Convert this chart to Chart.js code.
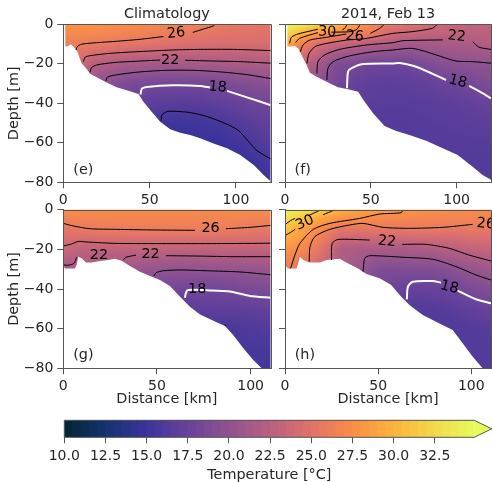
<!DOCTYPE html>
<html><head><meta charset="utf-8">
<style>html,body{margin:0;padding:0;background:#fff;width:492px;height:482px;overflow:hidden}
canvas{position:absolute;left:0;top:0}</style>
<script src="https://cdn.jsdelivr.net/npm/chart.js@4"></script>
</head><body>
<script>
// Grid of the temperature sections
const distanceGrid = [0,10,20,30,40,50,60,70,80,90,100,110,120];
const depthGrid = [0,-5,-10,-20,-30,-40,-50,-60,-70,-80];

const tempE = [
 [28,28,27.8,27.5,27.3,27,26.8,26.6,26.3,25.9,25.5,25.4,25.3],
 [27.1,27.1,27,26.8,26.6,26.3,26,25.7,25.5,25.2,25,25,24.9],
 [26.2,26.1,25.8,25.5,25.3,25.1,24.9,24.6,24.4,24.4,24.4,24.4,24.4],
 [24,23.6,22.2,21.8,21.5,21.4,21.3,21.4,21.5,21.6,21.7,21.8,21.9],
 [21,20.5,20,19.3,18.6,18.4,18.3,18.3,18.3,18.5,19,19.3,19.6],
 [19,18.5,18,17.8,17.4,16.9,16.7,16.6,16.8,17.1,17.4,17.9,18.1],
 [18,17.5,17,16.8,16.3,15.8,15.3,15.2,15.4,15.7,16.3,16.8,17.3],
 [17,16.5,16,15.6,15.2,15,14.8,14.7,14.8,14.9,15.3,15.9,16.6],
 [16,15.5,15,14.8,14.7,14.6,14.5,14.5,14.6,14.6,14.7,15,15.8],
 [15.5,15,14.8,14.6,14.5,14.5,14.5,14.5,14.5,14.5,14.6,14.8,15.3]];
const tempF = [
 [35,33.5,31.8,30.6,28.9,27.2,25.7,25,24.5,23.9,23.4,23.1,23],
 [32.5,29.7,27.8,26.7,26,25.8,24,23.5,23,22.9,22.8,22.7,22.6],
 [30,26.3,24.4,23.5,22.9,22.3,21.8,21.2,21.3,21.5,21.6,21.8,22.3],
 [25,23,21.3,19,18.6,18,17.9,18,18.6,19.4,19.75,19.9,20],
 [22,21,19.5,18.3,17.3,17,16.9,17,17.2,17.6,18,18.5,19],
 [20,19,18,17.5,17,16.7,16.6,16.6,16.7,16.8,17,17.3,17.7],
 [18,17.5,17.2,17,16.7,16.5,16.4,16.4,16.5,16.6,16.7,16.8,16.9],
 [17,17,17,16.8,16.5,16.4,16.3,16.3,16.4,16.4,16.5,16.5,16.5],
 [16.6,16.6,16.6,16.5,16.4,16.3,16.3,16.3,16.3,16.3,16.3,16.3,16.3],
 [16.5,16.5,16.5,16.4,16.3,16.3,16.3,16.3,16.3,16.3,16.3,16.3,16.3]];
const tempG = [
 [27.5,27.5,27.4,27.3,27.3,27.3,27.3,27.3,27.3,27.3,27.3,27.3,27.3],
 [26.4,26.7,26.7,26.7,26.7,26.7,26.7,26.7,26.7,26.7,26.6,26.5,26.5],
 [25.5,25.7,25.9,25.95,26,26,26,26,26,25.9,25.7,25.6,25.6],
 [23.6,22.9,22.9,23,23,23,23,23,23,23,23.1,23.1,23.1],
 [21.5,21.5,21.3,21,20.7,20.3,20.1,20.1,20.2,20.3,20.4,20.6,20.6],
 [20,19.5,19.3,19,18.6,18.2,18.2,18.1,18.2,18.3,18.7,18.9,18.9],
 [18.5,18,17.8,17.6,17.3,17,17,16.9,17,17,17.1,17.3,17.3],
 [17,16.8,16.6,16.4,16.2,16,15.9,15.8,15.8,15.8,16.1,16.4,16.4],
 [16,16,15.9,15.8,15.8,15.8,15.8,15.8,15.8,15.8,15.8,15.8,15.8],
 [15.5,15.5,15.5,15.5,15.5,15.5,15.5,15.5,15.5,15.5,15.5,15.5,15.5]];
const tempH = [
 [35,33.3,31.6,29.7,29,28.5,28.2,27.9,27.7,27.5,27.4,27.3,27.3],
 [32.9,30.5,28.8,27.6,27.5,27,26.9,26.8,26.7,26.7,26.7,26.7,26.7],
 [31,28.8,27,25.3,25.2,25.5,25.5,25.7,25.8,25.5,25.6,25.6,25.6],
 [28,27,25,22,21.7,21.6,21.6,21.7,22,22.5,23,23.3,23.3],
 [26,25,23.5,22,20.7,19,19,19.1,19.1,19.7,20.3,20.9,20.9],
 [24,23,22,21,19,18.3,17.6,17.4,17.6,17.9,18.8,19.2,19.3],
 [22,21,20,19,18,17,16.6,16.3,16.4,16.7,17.2,17.6,17.7],
 [20,19,18,17.5,17,16.4,16.2,16.1,16.1,16.2,16.4,16.6,16.7],
 [18,17.5,17,16.8,16.5,16.3,16.2,16.1,16.1,16.2,16.3,16.3,16.3],
 [17,17,16.5,16.5,16.3,16.2,16.2,16.1,16.1,16.2,16.3,16.3,16.3]];

// Sea bed of each section [distance km, depth m]
const bedE = [[0,0],[1.1,0],[1.2,-11.3],[2.9,-11],[4.3,-10.1],[5.8,-11.3],[8.1,-13.8],[10.6,-19.7],[13.2,-22.3],[15.5,-25.1],[19.3,-26.8],[25.1,-29.5],[30.9,-31.9],[37.7,-33.6],[43.5,-35.3],[46.4,-39.2],[50.3,-43.4],[56.1,-49.3],[61.9,-53.2],[67.7,-54.9],[73.5,-56],[79.3,-57.7],[87,-60.3],[94.8,-62.8],[102.5,-66.2],[110.3,-71.2],[116,-76.3],[120.3,-79.7]];
const bedF = [[0,0],[1.3,0],[1.4,-11.3],[2.9,-11.3],[5.8,-11],[7.7,-12.2],[10.6,-17.2],[12.6,-20.6],[14.5,-24.5],[18.4,-26.5],[25.1,-29.5],[30.9,-31.9],[36.8,-32.9],[42.6,-34.1],[46.4,-39.2],[51.3,-45.1],[58,-51.5],[64.8,-54],[72.5,-56],[82.2,-58.9],[91.9,-62.8],[100.6,-66.2],[109.3,-72.1],[115.1,-76.3],[120.1,-78.8]];
const bedG = [[0,-28.4],[0.9,-29.6],[6.2,-29.6],[7.1,-27.9],[8,-23.7],[9.8,-24.5],[12.1,-26.6],[15.1,-26.6],[19.6,-25.9],[24,-25.4],[27.6,-24.7],[31.1,-25.7],[35.6,-28.4],[40.9,-31.3],[46.3,-33.4],[51.6,-35.5],[56.9,-38.5],[62.3,-43.9],[67.6,-48.9],[73,-52.8],[80.1,-56],[86.3,-58.7],[90.7,-63.2],[96.1,-69.9],[101.4,-75.8],[105.9,-80],[111,-80]];
const bedH = [[0,0],[0.4,0],[0.5,-28.7],[1.8,-29.6],[6.2,-29.6],[7.1,-27.1],[8,-23.7],[9.8,-25.4],[13,-26.6],[18.7,-26.6],[22.3,-25.4],[29.4,-24.7],[33.9,-27.1],[39.2,-29.6],[43.7,-32.4],[50.8,-34.6],[57,-38],[62.4,-43.9],[66.8,-48.1],[74,-53.1],[81.1,-56.5],[90,-60.7],[95.4,-67.4],[100.7,-74.1],[106.1,-80],[111,-80]];

// Contours, one list per unbroken piece; [distance km, depth m]
const contoursE = [
 [[7.4,-13],[8.1,-11.3],[10.6,-10.1],[19.3,-9.3],[30.9,-8.6],[44.5,-7.6],[58,-6.2]],
 [[75,-4.1],[81.2,-2.4],[87,-0.8],[88,0]],
 [[11.6,-18.9],[12.6,-16.7],[15.5,-15.9],[27.1,-14.7],[44.5,-13.8],[63.8,-13],[79.3,-12.7],[98.6,-12.7],[120.3,-13.3]],
 [[15.5,-24.3],[16.4,-21.9],[19.3,-20.6],[29,-19.4],[44.5,-18.6],[56.1,-18.1]],
 [[70.6,-18.2],[87,-18.6],[102.5,-18.9],[120.3,-19.7]],
 [[24.6,-28.7],[25.5,-26.8],[30,-25.7],[44.5,-24.1],[60,-23.3],[75.4,-23.3],[90.9,-24.1],[106.4,-25.5],[120.3,-27.5]],
 [[56.7,-48.8],[57.1,-45.9],[60,-44.2],[65.8,-44.1],[73.5,-44.7],[83.2,-46.7],[94.8,-50.6],[101.5,-53.8],[106.4,-58.5],[112.2,-64],[120.3,-68.2]]];
const contour18E = [
 [[44.7,-35.6],[45.5,-32.6],[48.4,-31.7],[63.8,-30.9],[79.3,-31.2],[85,-32]],
 [[94.8,-33.7],[106.4,-37],[120.3,-41]]];
const contoursF = [
 [[2.7,-9.6],[3.7,-6.6],[7.6,-4.9],[19.2,-2.5]],
 [[33.4,-2.9],[35.3,-1.5],[36.1,0]],
 [[6.2,-9.3],[8.5,-7.1],[19.2,-4.2]],
 [[27,-4],[38.6,-3.7],[41.9,-2.5],[43.8,0]],
 [[8.9,-13.9],[10.5,-10.5],[14.4,-8],[24.1,-6.6],[35.7,-4.9]],
 [[49.7,-4.6],[55.1,-2.1],[58,0]],
 [[12.8,-19.8],[14,-14.7],[18.2,-11],[35.7,-8],[46.4,-7.3],[62.9,-4.6],[74.5,-3.7],[86,-2],[88.6,0]],
 [[18.6,-24.8],[19.2,-18.9],[23.1,-15.5],[31.8,-12.7],[47.3,-10.5],[62.9,-9.3],[68.7,-8.3],[91.9,-7.9]],
 [[109.3,-8.8],[113,-11.6],[120,-12.7]],
 [[24.4,-28.2],[25,-22.3],[28,-18.9],[37.7,-16],[51.2,-13.9],[62.9,-13],[74.5,-12.2],[88,-15.5],[99.6,-18.6],[109.3,-18.9],[120,-19.7]]];
const contour18F = [
 [[36.1,-32.4],[36.7,-24],[38.6,-22.3],[45.4,-20.1],[62.9,-19.8],[66.7,-19.6],[76.4,-21.5],[93.8,-28.2]],
 [[107.3,-31.2],[115,-34.9],[120,-37.5]]];
const contoursG = [
 [[0,-6.9],[5.3,-8.2],[14.2,-9.6],[28.5,-9.9],[46.3,-10.2],[70.3,-10.4]],
 [[86.8,-9.6],[99.6,-8.9],[110.7,-7.9]],
 [[0,-18.3],[4.4,-17.3],[8,-16],[12.5,-16.3],[28.5,-17],[55.2,-17.1],[81.9,-17.1],[110.7,-16.9]],
 [[0,-27.6],[1.8,-28.1],[5.7,-27.1],[7.1,-24]],
 [[32,-25.4],[33.5,-24],[38.8,-22.9]],
 [[54.8,-23.2],[73,-23.4],[90.7,-23.7],[110.7,-23.7]],
 [[48.4,-33.4],[49.5,-31.8],[53.4,-30.8],[62.3,-30.4],[76.5,-30.8],[94.3,-31.4],[110.7,-32.8]],
 [[86.3,-58],[87,-58.8]]];
const contour18G = [
 [[64.9,-44.4],[65.5,-41.8],[66.7,-40.5],[78.3,-40.7],[89,-41.3],[99.6,-43.5],[110.7,-44.4]]];
const contoursH = [
 [[0.5,-7.2],[3,-5.5],[5.3,-4.4]],
 [[12.5,-3],[18.2,-0.5],[18.7,0]],
 [[0.5,-12.8],[3.6,-11.1],[5.5,-9.9]],
 [[20.5,-2.5],[26.2,-0.3],[26.5,0]],
 [[3,-29.6],[5.3,-22.9],[8,-17],[15.2,-9.9],[24.1,-6.9],[40.1,-4.4],[50.8,-2.2],[62.4,-1.5],[63.3,0]],
 [[13,-26.2],[13.4,-18.7],[16,-13.6],[24.1,-9.9],[34.8,-7.7],[41.9,-6.9],[52.6,-8.9],[66.8,-9.4],[84.7,-8.9],[100.7,-7.4]],
 [[25,-25.4],[25.3,-17],[28.5,-15],[45.5,-15.3]],
 [[62.9,-17.5],[75.8,-17.5],[88.2,-19.5],[98.9,-22.9],[110.7,-25.9]],
 [[41.9,-31.3],[42.8,-24.5],[45.5,-23.2],[63.3,-24],[79.3,-25],[91.8,-28.7],[102.5,-32.9],[110.7,-35.5]]];
const contour18H = [
 [[65.4,-45.2],[66,-38.8],[68.6,-36.3],[79.3,-36],[83.8,-36.8]],
 [[92.7,-40.8],[102.5,-45.2],[110.7,-47.2]]];

// Contour labels: text, distance km, depth m, rotation deg
const labelsE = [['26',65.4,-4.6,-6],['22',61.9,-18.1,0],['18',89.4,-31.9,5]];
const labelsF = [['30',24.6,-4,2],['26',40.6,-6.2,5],['22',100,-6.2,6],['18',100.6,-29,14]];
const labelsG = [['26',78.6,-9.6,0],['22',19,-23.2,0],['22',46.6,-22.7,0],['18',71.5,-40,0]];
const labelsH = [['30',10.7,-6.6,-24],['26',107.8,-7.2,5],['22',54.7,-16.1,6],['18',88.2,-39.2,14]];

// Colour map and colour bar
const cmapStops = [[10,'#042333'],[12.5,'#15326f'],[15,'#3b339b'],[17.5,'#67429a'],[20,'#8f5390'],[22.5,'#b85f80'],[25,'#e0726a'],[27.5,'#f98d48'],[30,'#fdb23c'],[32.5,'#f2d94b'],[35,'#e6fb5b']];
const colorbarLevels = [10,10.5,11,11.5,12,12.5,13,13.5,14,14.5,15,15.5,16,16.5,17,17.5,18,18.5,19,19.5,20,20.5,21,21.5,22,22.5,23,23.5,24,24.5,25,25.5,26,26.5,27,27.5,28,28.5,29,29.5,30,30.5,31,31.5,32,32.5,33,33.5,34,34.5];
const colorbarMax = 34.9;
const colorbarTop = '#e6fb5b';

const INK = '#262626', SPINE = '#555555', FONT = 'DejaVu Sans';
const stopsRGB = cmapStops.map(([v,h]) => [v, parseInt(h.slice(1,3),16), parseInt(h.slice(3,5),16), parseInt(h.slice(5,7),16)]);
function cmap(t){
  if (t <= stopsRGB[0][0]) return stopsRGB[0].slice(1);
  for (let i = 1; i < stopsRGB.length; i++) {
    if (t <= stopsRGB[i][0]) {
      const a = stopsRGB[i-1], b = stopsRGB[i], f = (t-a[0])/(b[0]-a[0]);
      return [a[1]+f*(b[1]-a[1]), a[2]+f*(b[2]-a[2]), a[3]+f*(b[3]-a[3])];
    }
  }
  return stopsRGB[stopsRGB.length-1].slice(1);
}
function bracket(axis, v){
  for (let i = 0; i < axis.length-2; i++) if (Math.abs(v) < Math.abs(axis[i+1])) return i;
  return axis.length-2;
}
function sample(grid, km, dep){
  const d = Math.max(0, Math.min(km, 120)), m = Math.max(-80, Math.min(dep, 0));
  const i = bracket(distanceGrid, d), j = bracket(depthGrid, m);
  const u = (d-distanceGrid[i])/(distanceGrid[i+1]-distanceGrid[i]);
  const v = (m-depthGrid[j])/(depthGrid[j+1]-depthGrid[j]);
  return (grid[j][i]*(1-u)+grid[j][i+1]*u)*(1-v) + (grid[j+1][i]*(1-u)+grid[j+1][i+1]*u)*v;
}

const pts = a => a.map(([x,y]) => ({x,y}));
const panelPlugin = {
  id: 'panel',
  beforeDatasetsDraw(chart, args, o){
    if (!o.grid) return;
    const {x, y} = chart.scales, a = chart.chartArea, c = chart.ctx;
    const L = Math.floor(a.left), T = Math.floor(a.top), W = Math.ceil(a.right)-L, H = Math.ceil(a.bottom)-T;
    const off = document.createElement('canvas'); off.width = W; off.height = H;
    const oc = off.getContext('2d'), img = oc.createImageData(W, H);
    for (let py = 0; py < H; py++) for (let px = 0; px < W; px++) {
      const col = cmap(sample(o.grid, x.getValueForPixel(L+px+.5), y.getValueForPixel(T+py+.5)));
      const k = (py*W+px)*4;
      img.data[k] = col[0]; img.data[k+1] = col[1]; img.data[k+2] = col[2]; img.data[k+3] = 255;
    }
    oc.putImageData(img, 0, 0);
    c.save(); c.beginPath(); c.rect(a.left, a.top, a.width, a.height); c.clip();
    c.drawImage(off, L, T); c.restore();
  },
  afterDatasetsDraw(chart, args, o){
    const {x, y} = chart.scales, a = chart.chartArea, c = chart.ctx;
    c.save();
    c.font = '14.4px "'+FONT+'"'; c.fillStyle = '#000'; c.textAlign = 'center'; c.textBaseline = 'middle';
    (o.labels||[]).forEach(([t,km,d,r]) => {
      c.save(); c.translate(x.getPixelForValue(km), y.getPixelForValue(d)); c.rotate(r*Math.PI/180);
      c.fillText(t,0,0); c.restore();
    });
    c.fillStyle = INK;
    if (o.tag) c.fillText(o.tag, x.getPixelForValue(o.tagAt[0]), y.getPixelForValue(o.tagAt[1]));
    c.strokeStyle = SPINE; c.lineWidth = 1;
    c.beginPath();
    const r = Math.round(a.right)+.5, t = Math.round(a.top)+.5;
    c.moveTo(Math.round(a.left), t); c.lineTo(r, t); c.lineTo(r, Math.round(a.bottom)+1);
    c.stroke();
    c.restore();
  }
};

function panel(cfg){
  const cv = document.createElement('canvas');
  cv.width = 492; cv.height = 482; document.body.appendChild(cv);
  const datasets = [{ data: pts(cfg.bed), borderWidth: 0, backgroundColor: '#fff', fill: 'start', pointRadius: 0, tension: 0, order: 3 }];
  cfg.contours.forEach(p => datasets.push({ data: pts(p), borderColor: '#000', borderWidth: 1, pointRadius: 0, tension: .25, fill: false, order: 2 }));
  cfg.contour18.forEach(p => datasets.push({ data: pts(p), borderColor: '#fff', borderWidth: 2, pointRadius: 0, tension: .25, fill: false, order: 1 }));
  const yW = cfg.left - cfg.padL;
  new Chart(cv, {
    type: 'line',
    data: { datasets },
    plugins: [panelPlugin],
    options: {
      responsive: false, animation: false, events: [],
      layout: { padding: { left: cfg.padL, top: cfg.title ? 0 : cfg.top, right: 492-cfg.right, bottom: 482-cfg.bottom-cfg.xH } },
      plugins: {
        legend: { display: false }, tooltip: { enabled: false },
        title: cfg.title ? { display: true, text: cfg.title, fullSize: false, color: INK, font: { family: FONT, size: 14.4, weight: 'normal', lineHeight: 1.2 }, padding: { top: 6, bottom: cfg.top-6-17.28 } } : { display: false },
        panel: { grid: cfg.grid, labels: cfg.labels, tag: cfg.tag, tagAt: cfg.tagAt }
      },
      scales: {
        x: { type: 'linear', min: 0, max: cfg.xMax, afterFit: s => { s.height = cfg.xH; },
          border: { color: SPINE, z: 1 }, grid: { drawOnChartArea: false, tickLength: 6, tickColor: SPINE },
          ticks: { stepSize: 50, includeBounds: false, autoSkip: false, maxRotation: 0, color: INK, padding: 4, font: { family: FONT, size: 14 } },
          title: cfg.xTitle ? { display: true, text: cfg.xTitle, color: INK, font: { family: FONT, size: 14.4 }, padding: { top: 0, bottom: 0.5 } } : { display: false } },
        y: { type: 'linear', min: -80, max: 0, afterFit: s => { s.width = yW; },
          border: { color: SPINE, z: 1 }, grid: { drawOnChartArea: false, tickLength: 6, tickColor: SPINE },
          ticks: { stepSize: 20, display: cfg.yLabels, color: INK, padding: 4, font: { family: FONT, size: 14 }, callback: v => v < 0 ? '\u2212'+Math.abs(v) : ''+v },
          title: cfg.yTitle ? { display: true, text: cfg.yTitle, color: INK, font: { family: FONT, size: 14.4 }, padding: { top: 6, bottom: 0 } } : { display: false } }
      }
    }
  });
}
panel({ grid: tempE, bed: bedE, contours: contoursE, contour18: contour18E, labels: labelsE, tag: '(e)', tagAt: [11.6,-74.1], title: 'Climatology', yTitle: 'Depth [m]', yLabels: true, padL: 0, left: 63.3, right: 270.5, top: 24.3, bottom: 182.3, xH: 30, xMax: 120 });
panel({ grid: tempF, bed: bedF, contours: contoursF, contour18: contour18F, labels: labelsF, tag: '(f)', tagAt: [10.3,-74.1], title: '2014, Feb 13', yLabels: false, padL: 265, left: 285, right: 491, top: 24.3, bottom: 182.3, xH: 30, xMax: 120 });
panel({ grid: tempG, bed: bedG, contours: contoursG, contour18: contour18G, labels: labelsG, tag: '(g)', tagAt: [10.7,-73.4], yTitle: 'Depth [m]', xTitle: 'Distance [km]', yLabels: true, padL: 0, left: 63.3, right: 270.5, top: 209.7, bottom: 368.3, xH: 40, xMax: 110.6 });
panel({ grid: tempH, bed: bedH, contours: contoursH, contour18: contour18H, labels: labelsH, tag: '(h)', tagAt: [10.7,-73.4], xTitle: 'Distance [km]', yLabels: false, padL: 265, left: 285, right: 491, top: 209.7, bottom: 368.3, xH: 40, xMax: 110.6 });

// Colour bar
(function(){
  const cv = document.createElement('canvas');
  cv.width = 492; cv.height = 482; document.body.appendChild(cv);
  const toHex = rgb => 'rgb('+rgb.map(Math.round).join(',')+')';
  const datasets = colorbarLevels.map((lv,i) => ({
    data: [[lv, colorbarLevels[i+2] !== undefined ? colorbarLevels[i+2] : colorbarMax]],
    backgroundColor: toHex(cmap(lv+.25)), borderWidth: 0, grouped: false, barPercentage: 1, categoryPercentage: 1, order: colorbarLevels.length-i
  }));
  new Chart(cv, {
    type: 'bar',
    data: { labels: ['T'], datasets },
    plugins: [{
      id: 'cbarFrame',
      afterDatasetsDraw(chart){
        const a = chart.chartArea, c = chart.ctx, xr = chart.scales.x.getPixelForValue(colorbarMax);
        c.save();
        c.beginPath();
        c.moveTo(xr, a.top); c.lineTo(491.7, (a.top+a.bottom)/2); c.lineTo(xr, a.bottom); c.closePath();
        c.fillStyle = colorbarTop; c.fill();
        c.beginPath();
        c.moveTo(a.left, a.top); c.lineTo(xr, a.top); c.lineTo(491.7, (a.top+a.bottom)/2); c.lineTo(xr, a.bottom); c.lineTo(a.left, a.bottom); c.closePath();
        c.strokeStyle = SPINE; c.lineWidth = 1; c.stroke();
        c.restore();
      }
    }],
    options: {
      indexAxis: 'y', responsive: false, animation: false, events: [],
      layout: { padding: { left: 64.3, top: 420.3, right: 492-474.3, bottom: 0 } },
      plugins: { legend: { display: false }, tooltip: { enabled: false } },
      scales: {
        y: { display: false },
        x: { type: 'linear', min: 10, max: colorbarMax, afterFit: s => { s.height = 44.7; },
          border: { display: false }, grid: { drawOnChartArea: false, tickLength: 6, tickColor: SPINE },
          ticks: { stepSize: 2.5, includeBounds: false, autoSkip: false, maxRotation: 0, color: INK, padding: 5, font: { family: FONT, size: 14 }, callback: v => v.toFixed(1) },
          title: { display: true, text: 'Temperature [\u00b0C]', color: INK, font: { family: FONT, size: 14.4, lineHeight: 1 }, padding: { top: 0, bottom: 0 } } }
      }
    }
  });
})();
</script>
</body></html>
